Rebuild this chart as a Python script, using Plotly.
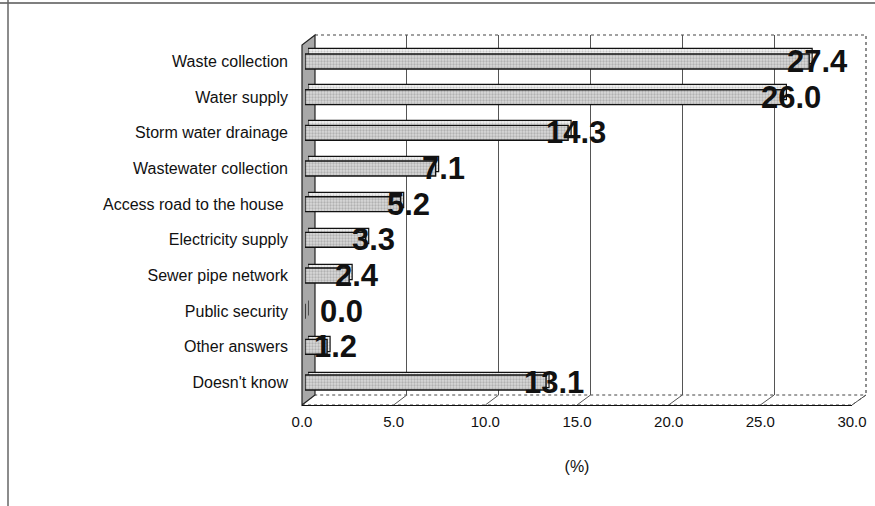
import plotly.graph_objects as go

# Survey results: most needed municipal service (%)
categories = [
    "Waste collection",
    "Water supply",
    "Storm water drainage",
    "Wastewater collection",
    "Access road to the house ",
    "Electricity supply",
    "Sewer pipe network",
    "Public security",
    "Other answers",
    "Doesn't know",
]
values = [27.4, 26.0, 14.3, 7.1, 5.2, 3.3, 2.4, 0.0, 1.2, 13.1]
tick_vals = [0, 5, 10, 15, 20, 25, 30]
x_max = 30

W, H = 875, 506
FONT = "Liberation Sans, Arial, sans-serif"


def fx(px):
    return px / W


def fy(py):
    return 1 - py / H


# pseudo-3D frame, page pixels: front (axis) face and back wall
FRONT = dict(l=302, r=852, t=45, b=405)
BACK = dict(l=315, r=866, t=35, b=395)
# bar front faces and the slightly shifted top/end faces
BARS = dict(l=305, r=857, t=42, b=402)
TOPS = dict(l=308, r=860, t=38, b=398)


def xdom(box):
    return [fx(box["l"]), fx(box["r"])]


def ydom(box):
    return [fy(box["b"]), fy(box["t"])]


bar_pattern = dict(shape=".", fgcolor="#8a8a8a", bgcolor="#d8d8d8", size=3, solidity=0.45)
top_pattern = dict(shape=".", fgcolor="#a0a0a0", bgcolor="#eeeeee", size=3, solidity=0.35)

fig = go.Figure()

# back wall: gridlines only
fig.add_trace(go.Scatter(x=[None], y=[None], xaxis="x", yaxis="y",
                         showlegend=False, hoverinfo="skip"))

# bar top/end faces
fig.add_trace(go.Bar(
    x=values, y=categories, orientation="h", xaxis="x2", yaxis="y2",
    marker=dict(color="#eeeeee", pattern=top_pattern, line=dict(color="#111111", width=1.2)),
    width=0.42, showlegend=False, hoverinfo="skip",
))

# bar front faces
fig.add_trace(go.Bar(
    x=values, y=categories, orientation="h", xaxis="x3", yaxis="y3",
    marker=dict(color="#d8d8d8", pattern=bar_pattern, line=dict(color="#111111", width=1.4)),
    width=0.42, showlegend=False,
))

# front value axis (tick labels and title)
fig.add_trace(go.Scatter(x=[None], y=[None], xaxis="x4", yaxis="y4",
                         showlegend=False, hoverinfo="skip"))

# value labels at the bar ends (zero-length bars get theirs past the side wall)
for c, v in zip(categories, values):
    fig.add_annotation(
        x=v, y=c, xref="x3", yref="y3", text=f"{v:.1f}", showarrow=False,
        xanchor="center", yanchor="middle", xshift=8 if v > 0 else 36, yshift=0,
        font=dict(family=FONT, size=31, color="#111111", weight="bold"),
    )

cat_axis = dict(type="category", categoryorder="array", categoryarray=categories,
                autorange="reversed", showgrid=False, zeroline=False, automargin=False)
hidden_x = dict(range=[0, x_max], visible=False, automargin=False)

fig.update_layout(
    width=W, height=H,
    margin=dict(l=0, r=0, t=0, b=0, autoexpand=False),
    paper_bgcolor="white",
    plot_bgcolor="rgba(0,0,0,0)",
    font=dict(family=FONT, size=15, color="#111111"),
    xaxis=dict(domain=xdom(BACK), range=[0, x_max], tickvals=tick_vals[1:-1],
               showticklabels=False, showgrid=True, gridcolor="#555555", gridwidth=1,
               zeroline=False, showline=False, ticks="", anchor="y", automargin=False),
    yaxis=dict(domain=ydom(BACK), range=[0, 1], visible=False, anchor="x", automargin=False),
    xaxis2=dict(domain=xdom(TOPS), anchor="y2", **hidden_x),
    yaxis2=dict(domain=ydom(TOPS), visible=False, anchor="x2", **cat_axis),
    xaxis3=dict(domain=xdom(BARS), anchor="y3", **hidden_x),
    yaxis3=dict(domain=ydom(BARS), ticks="", ticklabelstandoff=16, showline=False,
                tickfont=dict(family=FONT, size=16, color="#111111"), anchor="x3",
                **cat_axis),
    xaxis4=dict(domain=xdom(FRONT), range=[0, x_max], tickvals=tick_vals, tickformat=".1f",
                showgrid=False, zeroline=False, showline=True, linecolor="#111111",
                linewidth=1.3, ticks="", ticklabelstandoff=3, automargin=False,
                tickfont=dict(family=FONT, size=15, color="#111111"),
                title=dict(text="(%)", standoff=31, font=dict(family=FONT, size=16)),
                anchor="y4"),
    yaxis4=dict(domain=ydom(FRONT), range=[0, 1], visible=False, anchor="x4",
                automargin=False),
)

shapes = []
# floor
shapes.append(dict(
    type="path", xref="paper", yref="paper", layer="below",
    path=(f"M {fx(FRONT['l'])} {fy(FRONT['b'])} L {fx(FRONT['r'])} {fy(FRONT['b'])} "
          f"L {fx(BACK['r'])} {fy(BACK['b'])} L {fx(BACK['l'])} {fy(BACK['b'])} Z"),
    fillcolor="white", line=dict(color="#444444", width=1, dash="dot"),
))
# floor ticks: front tick position to the matching back gridline
for t in tick_vals[1:]:
    xf = FRONT["l"] + t / x_max * (FRONT["r"] - FRONT["l"])
    xb = BACK["l"] + t / x_max * (BACK["r"] - BACK["l"])
    shapes.append(dict(type="line", xref="paper", yref="paper", layer="below",
                       x0=fx(xf), y0=fy(FRONT["b"]), x1=fx(xb), y1=fy(BACK["b"]),
                       line=dict(color="#555555", width=1)))
# back wall outline (top and right edges)
shapes.append(dict(
    type="path", xref="paper", yref="paper", layer="below",
    path=(f"M {fx(BACK['l'])} {fy(BACK['t'])} L {fx(BACK['r'])} {fy(BACK['t'])} "
          f"L {fx(BACK['r'])} {fy(BACK['b'])}"),
    line=dict(color="#444444", width=1.2, dash="dot"),
))
# left side wall
shapes.append(dict(
    type="path", xref="paper", yref="paper", layer="below",
    path=(f"M {fx(FRONT['l'])} {fy(FRONT['b'])} L {fx(FRONT['l'])} {fy(FRONT['t'])} "
          f"L {fx(BACK['l'])} {fy(BACK['t'])} L {fx(BACK['l'])} {fy(BACK['b'])} Z"),
    fillcolor="#a8a8a8", line=dict(color="#222222", width=1.2),
))
# page frame
shapes.append(dict(type="line", xref="paper", yref="paper", x0=0, x1=1, y0=fy(3), y1=fy(3),
                   line=dict(color="#555555", width=1.5)))
shapes.append(dict(type="line", xref="paper", yref="paper", x0=fx(8), x1=fx(8), y0=0, y1=1,
                   line=dict(color="#666666", width=1.5)))
fig.update_layout(shapes=shapes)

fig.write_html("out.html")
